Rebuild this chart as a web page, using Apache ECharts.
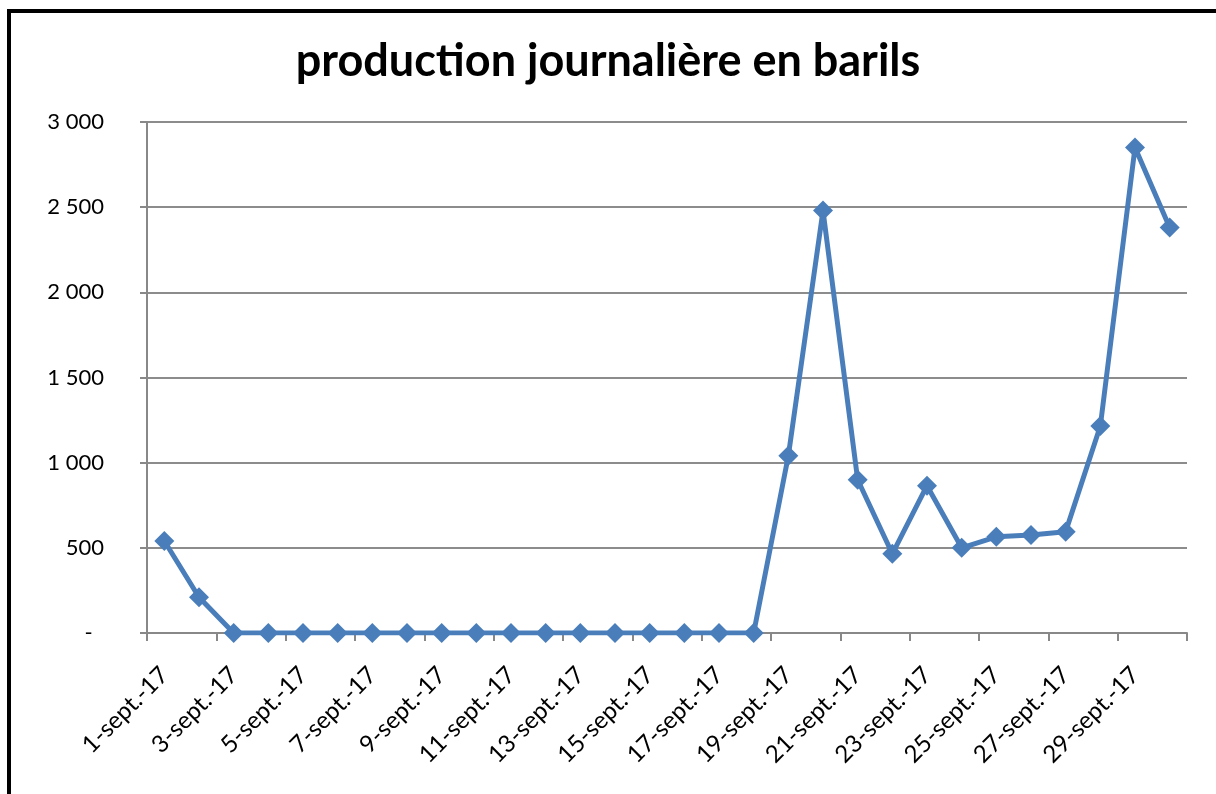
<!DOCTYPE html>
<html>
<head>
<meta charset="utf-8">
<script src="https://cdn.jsdelivr.net/npm/echarts@6/dist/echarts.min.js"></script>
<style>
html,body{margin:0;padding:0;background:#fff;}
#chart{width:1216px;height:794px;}
</style>
</head>
<body>
<div id="chart"></div>
<script>
const titleText = 'production journalière en barils';
const categories = ['1-sept.-17','2-sept.-17','3-sept.-17','4-sept.-17','5-sept.-17','6-sept.-17','7-sept.-17','8-sept.-17','9-sept.-17','10-sept.-17','11-sept.-17','12-sept.-17','13-sept.-17','14-sept.-17','15-sept.-17','16-sept.-17','17-sept.-17','18-sept.-17','19-sept.-17','20-sept.-17','21-sept.-17','22-sept.-17','23-sept.-17','24-sept.-17','25-sept.-17','26-sept.-17','27-sept.-17','28-sept.-17','29-sept.-17','30-sept.-17'];
const production = [540, 210, 0, 0, 0, 0, 0, 0, 0, 0, 0, 0, 0, 0, 0, 0, 0, 0, 1040, 2480, 900, 465, 865, 500, 565, 575, 595, 1215, 2850, 2380];
const yMin = 0, yMax = 3000, yStep = 500;

function fmtY(v){
  if (v === 0) return '-  ';
  return String(v).replace(/\B(?=(\d{3})+(?!\d))/g, ' ');
}

const chart = echarts.init(document.getElementById('chart'));
chart.setOption({
  animation: false,
  backgroundColor: '#fff',
  title: {
    text: titleText,
    left: 'center',
    top: 34,
    textStyle: {fontFamily: 'Lato', fontWeight: 'bold', fontSize: 45, color: '#000'}
  },
  graphic: [{
    type: 'rect',
    shape: {x: 9, y: 11, width: 1400, height: 1000},
    style: {fill: 'none', stroke: '#000', lineWidth: 4},
    silent: true
  }],
  grid: {left: 147, right: 29, top: 122, bottom: 161, containLabel: false},
  xAxis: {
    type: 'category',
    data: categories,
    boundaryGap: true,
    axisLine: {lineStyle: {color: '#888', width: 2}},
    axisTick: {show: true, interval: 1, length: 8, lineStyle: {color: '#888', width: 2}},
    axisLabel: {
      interval: 1,
      rotate: 45,
      margin: 38,
      fontFamily: 'Lato',
      fontSize: 24,
      color: '#000'
    },
    splitLine: {show: false}
  },
  yAxis: {
    type: 'value',
    min: yMin, max: yMax, interval: yStep,
    axisLine: {show: true, lineStyle: {color: '#888', width: 2}},
    axisTick: {show: true, length: 7, lineStyle: {color: '#888', width: 2}},
    axisLabel: {formatter: fmtY, margin: 43, fontFamily: 'Lato', fontSize: 22, color: '#000'},
    splitLine: {show: true, lineStyle: {color: '#8c8c8c', width: 2}}
  },
  series: [{
    type: 'line',
    data: production,
    symbol: 'diamond',
    symbolSize: 20,
    itemStyle: {color: '#4a7ebb'},
    lineStyle: {color: '#4a7ebb', width: 5},
    z: 3
  }]
});
</script>
</body>
</html>
